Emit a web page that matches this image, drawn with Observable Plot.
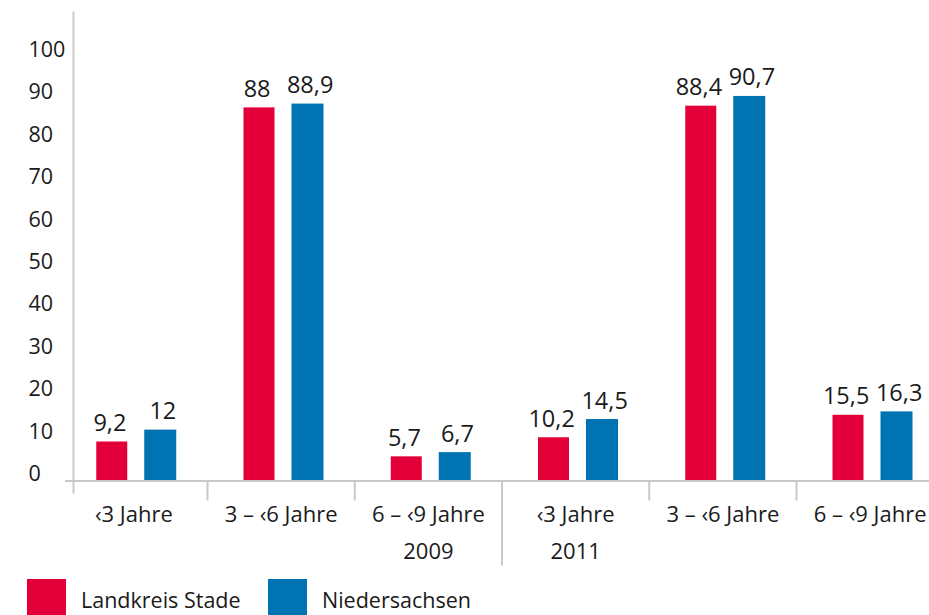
<!DOCTYPE html>
<html>
<head>
<meta charset="utf-8">
<script src="https://cdn.jsdelivr.net/npm/d3@7"></script>
<script src="https://cdn.jsdelivr.net/npm/@observablehq/plot@0.6"></script>
<style>
  html, body { margin: 0; padding: 0; background: #fff; overflow: hidden; width: 929px; height: 615px; }
  #chart svg { display: block; }
  .legend { position: relative; height: 45px; font-family: "Open Sans", sans-serif; font-size: 21.5px; color: #1a1a1a; }
  .item { position: absolute; top: 9px; display: flex; align-items: flex-start; }
  .sw { width: 39px; height: 39px; }
  .lab { margin-left: 15px; margin-top: 8px; line-height: 26px; }
</style>
</head>
<body>
<div id="chart"></div>
<div class="legend" id="legend"></div>
<script>
const ageGroups = ["‹3 Jahre", "3 – ‹6 Jahre", "6 – ‹9 Jahre", "‹3 Jahre", "3 – ‹6 Jahre", "6 – ‹9 Jahre"];
const years = ["2009", "2009", "2009", "2011", "2011", "2011"];
const yearLabels = ["2009", "2011"];
const seriesNames = ["Landkreis Stade", "Niedersachsen"];
const stadeValues = [9.2, 88, 5.7, 10.2, 88.4, 15.5];
const niedersachsenValues = [12, 88.9, 6.7, 14.5, 90.7, 16.3];
const yTicks = [0, 10, 20, 30, 40, 50, 60, 70, 80, 90, 100];
const colors = ["#e3003a", "#0074b3"];

const groups = ageGroups.map((label, i) => ({i, label, year: years[i]}));
const stade = groups.map((g, i) => ({...g, value: stadeValues[i]}));
const nds = groups.map((g, i) => ({...g, value: niedersachsenValues[i]}));
const boundaries = groups.slice(1).map(g => g.i);
const yearPos = yearLabels.map(y => ({year: y, i: y === "2009" ? years.lastIndexOf(y) : years.indexOf(y)}));
const divider = years.indexOf("2011");

const fmt = v => String(v).replace(".", ",");
const grey = "#c9c9c9";
const font = "'Open Sans', sans-serif";

const chart = Plot.plot({
  width: 929,
  height: 570,
  marginLeft: 73,
  marginRight: 0,
  marginTop: 12,
  marginBottom: 78,
  style: {fontFamily: font, fontSize: "21px", color: "#1a1a1a", background: "#fff", overflow: "visible"},
  x: {domain: [0, 6], range: [59.75, 943.25], axis: null},
  y: {domain: [0, 100], range: [480.5, 56.5], axis: null},
  marks: [
    Plot.frame({anchor: "left", stroke: grey, strokeWidth: 2}),
    Plot.ruleX(boundaries, {x: d => d, y1: 0, y2: 0, insetBottom: -20, stroke: grey, strokeWidth: 2}),
    Plot.ruleX([divider], {x: d => d, y1: 0, y2: 0, insetBottom: -85, stroke: grey, strokeWidth: 2}),
    Plot.rectY(stade, {x1: d => d.i, x2: d => d.i + 1, y: "value", insetLeft: 36.5, insetRight: 79.75, fill: colors[0]}),
    Plot.rectY(nds, {x1: d => d.i, x2: d => d.i + 1, y: "value", insetLeft: 84.5, insetRight: 30.75, fill: colors[1]}),
    Plot.ruleY([0], {insetLeft: -8, stroke: grey, strokeWidth: 2}),
    Plot.text(yTicks, {y: d => d, text: d => String(d), frameAnchor: "left", dx: -45, textAnchor: "start", lineAnchor: "bottom", fontSize: 21.5, fill: "#1a1a1a"}),
    Plot.text(stade, {x: d => d.i + 0.5, y: "value", text: d => fmt(d.value), dx: -24, dy: -11, lineAnchor: "bottom", fontSize: 23.5, fill: "#1a1a1a"}),
    Plot.text(nds, {x: d => d.i + 0.5, y: "value", text: d => fmt(d.value), dx: 29, dy: -11, lineAnchor: "bottom", fontSize: 23.5, fill: "#1a1a1a"}),
    Plot.text(groups, {x: d => d.i + 0.5, y: 0, text: "label", dy: 41, lineAnchor: "bottom", fontSize: 22, fill: "#1a1a1a"}),
    Plot.text(yearPos, {x: d => d.i + 0.5, y: 0, text: "year", dy: 78, lineAnchor: "bottom", fontSize: 22, fill: "#1a1a1a"})
  ]
});
document.getElementById("chart").appendChild(chart);

const legend = document.getElementById("legend");
const lefts = [27, 268];
seriesNames.forEach((name, k) => {
  const item = document.createElement("div");
  item.className = "item";
  item.style.left = lefts[k] + "px";
  item.innerHTML = `<div class="sw" style="background:${colors[k]}"></div><div class="lab">${name}</div>`;
  legend.appendChild(item);
});
</script>
</body>
</html>
